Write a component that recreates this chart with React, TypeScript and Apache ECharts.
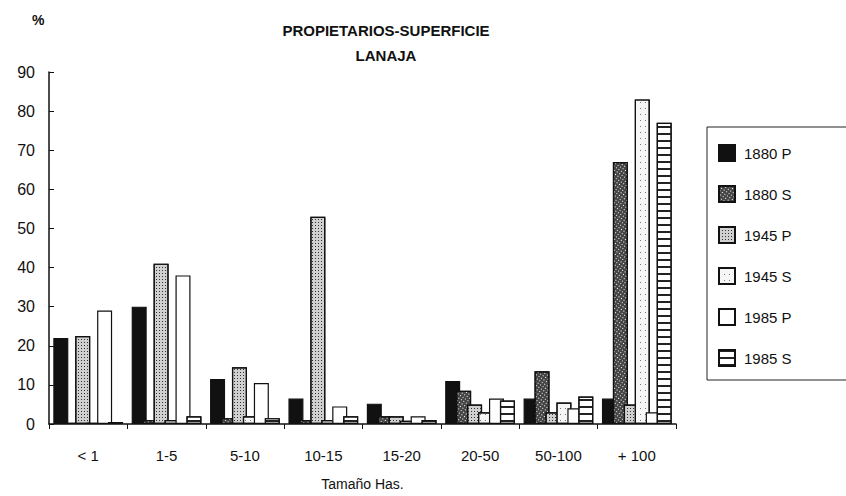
import React, { useEffect, useRef } from "react";
import * as echarts from "echarts";

const categories = ["< 1", "1-5", "5-10", "10-15", "15-20", "20-50", "50-100", "+ 100"];
const p1880 = [22, 30, 11.5, 6.5, 5.2, 11, 6.5, 6.5];
const s1880 = [0.3, 1, 1.5, 1, 2, 8.5, 13.5, 67];
const p1945 = [22.5, 41, 14.5, 53, 2, 5, 3, 5];
const s1945 = [0.3, 1, 2, 1, 0.8, 3, 5.5, 83];
const p1985 = [29, 38, 10.5, 4.5, 2, 6.5, 4, 3];
const s1985 = [0.5, 2, 1.5, 2, 1, 6, 7, 77];
const yTicks = [0, 10, 20, 30, 40, 50, 60, 70, 80, 90];

const FONT = "Liberation Sans, Arial, sans-serif";

export default function App() {
  const ref = useRef<HTMLDivElement>(null);
  useEffect(() => {
    if (!ref.current) return;
    const chart = echarts.init(ref.current, null, { renderer: "svg" });
    const border = { borderColor: "#111", borderWidth: 1.2 };
    const mk = (name: string, data: number[], style: any) => ({
      name,
      type: "bar",
      data,
      barWidth: 15,
      barGap: "-27%",
      itemStyle: { ...border, ...style },
    });
    chart.setOption({
      animation: false,
      backgroundColor: "#fff",
      textStyle: { fontFamily: FONT, color: "#111" },
      title: {
        text: "PROPIETARIOS-SUPERFICIE\nLANAJA",
        left: 381,
        top: 13,
        textAlign: "center",
        textStyle: { fontSize: 15, fontWeight: "bold", lineHeight: 25, color: "#111", fontFamily: FONT },
      },
      graphic: [
        { type: "text", left: 32, top: 13, style: { text: "%", fontSize: 14, fontWeight: "bold", fill: "#111", fontFamily: FONT } },
      ],
      legend: {
        orient: "vertical",
        left: 707,
        top: 127,
        padding: [17, 56, 13, 11],
        itemGap: 23,
        itemWidth: 16,
        itemHeight: 16,
        icon: "rect",
        borderColor: "#222",
        borderWidth: 1,
        textStyle: { fontSize: 15, color: "#111", fontFamily: FONT, padding: [0, 0, 0, 4] },
      },
      grid: { left: 49, top: 72, width: 627, height: 354, containLabel: false },
      xAxis: {
        type: "category",
        data: categories,
        name: "Tamaño Has.",
        nameLocation: "middle",
        nameGap: 53,
        nameTextStyle: { fontSize: 14, color: "#111" },
        axisLine: { lineStyle: { color: "#111", width: 1.5 } },
        axisTick: { show: true, length: 5, lineStyle: { color: "#111" } },
        axisLabel: { fontSize: 15, color: "#111", margin: 24 },
      },
      yAxis: {
        type: "value",
        min: yTicks[0],
        max: yTicks[yTicks.length - 1],
        interval: 10,
        axisLine: { show: true, lineStyle: { color: "#111", width: 1.5 } },
        axisTick: { show: true, inside: true, length: 5, lineStyle: { color: "#111" } },
        axisLabel: { fontSize: 16, color: "#111", margin: 14 },
        splitLine: { show: false },
      },
      series: [
        mk("1880 P", p1880, { color: "#111" }),
        mk("1880 S", s1880, {
          color: "#444",
          decal: { symbol: "rect", symbolSize: 1, color: "#fff", dashArrayX: [1, 2], dashArrayY: [1, 2], rotation: 0.6 },
        }),
        mk("1945 P", p1945, {
          color: "#d0d0d0",
          decal: { symbol: "rect", symbolSize: 1, color: "#333", dashArrayX: [1, 2], dashArrayY: [1, 2] },
        }),
        mk("1945 S", s1945, {
          color: "#f6f6f6",
          decal: { symbol: "rect", symbolSize: 1, color: "#777", dashArrayX: [1, 4], dashArrayY: [1, 5] },
        }),
        mk("1985 P", p1985, { color: "#fff" }),
        mk("1985 S", s1985, {
          color: "#fff",
          decal: { symbol: "rect", symbolSize: 1, color: "#222", dashArrayX: [1, 0], dashArrayY: [1.5, 5] },
        }),
      ],
    });
    return () => chart.dispose();
  }, []);
  return <div ref={ref} style={{ width: 846, height: 496, position: "absolute", left: 0, top: 0 }} />;
}
